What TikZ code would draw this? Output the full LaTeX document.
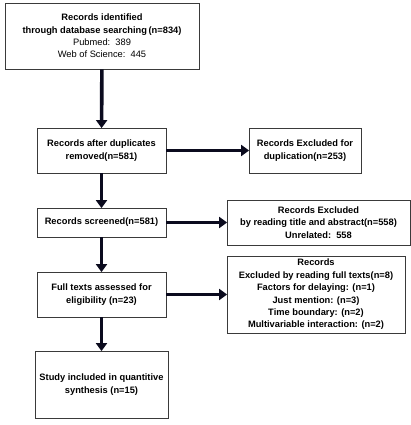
\documentclass[tikz,border=0pt]{standalone}
\usepackage{fontspec}
\setmainfont{Liberation Sans}
\usepackage{xcolor}
\definecolor{Ink}{HTML}{0b0b1e}
\definecolor{Frame}{HTML}{3a3a3a}
\usetikzlibrary{positioning, arrows.meta}
\newcommand{\boxfont}{\fontsize{9.3}{12.4}\selectfont}
\tikzset{
	line width = .75pt,
	font = \boxfont,
	box/.style={
		draw=Frame,
		line width=.8pt,
		align=center,
		inner sep=2pt
	},
	bold box/.style={
		box,
		font=\boxfont\bfseries
	},
	edge/.style={
		-{Triangle[length=8pt,width=11pt]},
		line width=3.6pt,
		color=Ink,
		shorten >=-.5pt
	}
}

\begin{document}
\begin{tikzpicture}[x=1pt, y=-1pt]
		\useasboundingbox (0,0) rectangle (411,425);
% ---
% Main column
% ---
\node[box, minimum width=194pt, minimum height=66pt] at (102,36) (ident) {\textbf{Records identified}\\\textbf{through database searching\,(n=834)}\\Pubmed:\ \ 389\\Web of Science:\ \ 445};
\node[bold box, minimum width=129pt, minimum height=45pt] at (101.5,150.5) (dedup) {Records after duplicates\\removed(n=581)};
\node[bold box, minimum width=129pt, minimum height=29pt] at (101.5,222.5) (screen) {Records screened(n=581)};
\node[bold box, minimum width=129pt, minimum height=45pt] at (101.5,294.5) (full) {Full texts assessed for\\eligibility (n=23)};
\node[bold box, minimum width=133pt, minimum height=67pt] at (101.5,384.5) (incl) {Study included in quantitive\\synthesis (n=15)};

% ---
% Exclusions
% ---
\node[bold box, minimum width=112pt, minimum height=45pt] at (305,150.5) (dup) {Records Excluded for\\duplication(n=253)};
\node[bold box, minimum width=183pt, minimum height=45pt] at (318.5,222.5) (abst) {Records Excluded\\by reading title and abstract(n=558)\\Unrelated:\ \ 558};
\node[bold box, minimum width=178pt, minimum height=77pt] at (316,294.5) (fulltxt) {Records\\Excluded by reading full texts(n=8)\\Factors for delaying: (n=1)\\Just mention: (n=3)\\Time boundary: (n=2)\\Multivariable interaction: (n=2)};

\draw[edge] (ident) to (dedup);
\draw[edge] (dedup) to (screen);
\draw[edge] (screen) to (full);
\draw[edge] (full) to (incl);

\draw[edge] (dedup) to (dup);
\draw[edge] (screen) to (abst);
\draw[edge] (full) to (fulltxt);

	\end{tikzpicture}
\end{document}
